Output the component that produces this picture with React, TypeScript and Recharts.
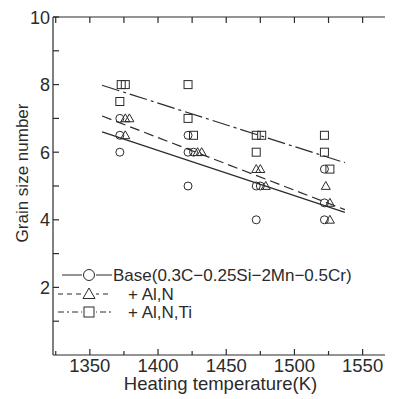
import { ScatterChart, Scatter, XAxis, YAxis } from "recharts";

const INK = "#2b2b2b";
const FONT = "'Liberation Sans', Arial, Helvetica, sans-serif";

const X_MIN = 1323;
const X_MAX = 1573;
const Y_MIN = 0;
const Y_MAX = 10;
const xTicks = [1325, 1350, 1375, 1400, 1425, 1450, 1475, 1500, 1525, 1550];
const xLabelTicks = [1350, 1400, 1450, 1500, 1550];
const yTicks = [1, 2, 3, 4, 5, 6, 7, 8, 9, 10];
const yLabelTicks = [2, 4, 6, 8, 10];

// measured grain size numbers (small x offsets where symbols overlap)
const basePoints = [
  { x: 1372, y: 7 }, { x: 1372, y: 6.5 }, { x: 1372, y: 6 },
  { x: 1422, y: 6.5 }, { x: 1422, y: 6 }, { x: 1426, y: 6 }, { x: 1422, y: 5 },
  { x: 1472, y: 5 }, { x: 1475, y: 5 }, { x: 1472, y: 4 },
  { x: 1522, y: 5.5 }, { x: 1522, y: 4.5 }, { x: 1522, y: 4 },
];
const alnPoints = [
  { x: 1376, y: 7 }, { x: 1379, y: 7 }, { x: 1376, y: 6.5 },
  { x: 1429, y: 6 }, { x: 1432, y: 6 },
  { x: 1472, y: 5.5 }, { x: 1475, y: 5.5 }, { x: 1479, y: 5 },
  { x: 1523, y: 5 }, { x: 1526, y: 4.5 }, { x: 1526, y: 4 },
];
const alnTiPoints = [
  { x: 1373, y: 8 }, { x: 1376, y: 8 }, { x: 1372, y: 7.5 },
  { x: 1422, y: 8 }, { x: 1422, y: 7 }, { x: 1426, y: 6.5 },
  { x: 1472, y: 6.5 }, { x: 1476, y: 6.5 }, { x: 1472, y: 6 },
  { x: 1522, y: 6.5 }, { x: 1522, y: 6 }, { x: 1526, y: 5.5 },
];

// fitted trend lines (end points)
const baseFit = [{ x: 1359, y: 6.6 }, { x: 1537, y: 4.22 }];
const alnFit = [{ x: 1359, y: 7.07 }, { x: 1537, y: 4.3 }];
const alnTiFit = [{ x: 1359, y: 7.98 }, { x: 1537, y: 5.69 }];

const seriesNames = ["Base(0.3C\u22120.25Si\u22122Mn\u22120.5Cr)", "+ Al,N", "+ Al,N,Ti"];

// frame (top and right edges) and their inward ticks, built from the tick lists
const frameTop = [{ x: X_MIN, y: Y_MAX }, { x: X_MAX, y: Y_MAX }];
const frameRight = [{ x: X_MAX, y: Y_MIN }, { x: X_MAX, y: Y_MAX }];
const topTickPts = xTicks.map((t) => ({ x: t, y: Y_MAX }));
const rightTickPts = yTicks.map((t) => ({ x: X_MAX, y: t }));

const DASH = "10 5";
const DASHDOT = "18 4 3 4";

const CircleMark = ({ cx, cy, r = 4 }: any) => (
  <circle cx={cx} cy={cy} r={r} fill="none" stroke={INK} strokeWidth={1} />
);
const TriMark = ({ cx, cy, s = 4.5 }: any) => (
  <polygon
    points={`${cx},${cy - s} ${cx - s},${cy + s * 0.75} ${cx + s},${cy + s * 0.75}`}
    fill="none"
    stroke={INK}
    strokeWidth={1}
  />
);
const SquareMark = ({ cx, cy, s = 4 }: any) => (
  <rect x={cx - s} y={cy - s} width={s * 2} height={s * 2} fill="none" stroke={INK} strokeWidth={1} />
);
const NoMark = () => <g />;
const TopTickMark = ({ cx, cy }: any) => (
  <line x1={cx} y1={cy} x2={cx} y2={cy + 6} stroke={INK} strokeWidth={1.2} />
);
const RightTickMark = ({ cx, cy }: any) => (
  <line x1={cx} y1={cy} x2={cx - 6} y2={cy} stroke={INK} strokeWidth={1.2} />
);

function BottomTick({ x, y, payload }: any) {
  const v = payload.value;
  const major = xLabelTicks.includes(v);
  return (
    <g>
      <line x1={x} y1={y} x2={x} y2={y - (major ? 6 : 4)} stroke={INK} strokeWidth={1.2} />
      {major && (
        <text x={x} y={y + 16.5} textAnchor="middle" fontSize={18.5} fontFamily={FONT} fill={INK}>
          {v}
        </text>
      )}
    </g>
  );
}

function LeftTick({ x, y, payload }: any) {
  const v = payload.value;
  return (
    <g>
      <line x1={x} y1={y} x2={x + 6} y2={y} stroke={INK} strokeWidth={1.2} />
      {yLabelTicks.includes(v) && (
        <text x={x - 3} y={y + 6.5} textAnchor="end" fontSize={18} fontFamily={FONT} fill={INK}>
          {v}
        </text>
      )}
    </g>
  );
}

const XTitle = ({ viewBox }: any) => (
  <text
    x={viewBox.x + viewBox.width / 2 - 3}
    y={viewBox.y + 34.5}
    textAnchor="middle"
    fontSize={18.5}
    fontFamily={FONT}
    fill={INK}
  >
    Heating temperature(K)
  </text>
);

const YTitle = ({ viewBox }: any) => (
  <text
    transform={`translate(${viewBox.x + 14}, ${viewBox.y + viewBox.height / 2 - 13}) rotate(-90)`}
    textAnchor="middle"
    dominantBaseline="central"
    fontSize={17}
    fontFamily={FONT}
    fill={INK}
  >
    Grain size number
  </text>
);

function LegendBox() {
  const rows = [
    { dash: undefined, mark: <CircleMark cx={31} cy={9} r={5.5} />, tx: 55 },
    { dash: "5 4", mark: <TriMark cx={31} cy={28} s={6} />, tx: 70 },
    { dash: "6 3 2 3", mark: <SquareMark cx={31} cy={46} s={5} />, tx: 70 },
  ];
  return (
    <svg
      width={300}
      height={60}
      style={{ position: "absolute", left: 50, top: 258, overflow: "visible" }}
    >
      {rows.map((r, i) => {
        const cy = [9, 28, 46][i];
        return (
          <g key={i}>
            <line x1={i === 0 ? 4 : 0} y1={cy} x2={54} y2={cy} stroke={INK} strokeWidth={1} strokeDasharray={r.dash} />
            <rect x={24} y={cy - 6} width={14} height={12} fill="#fff" />
            {r.mark}
            <text x={r.tx} y={cy + 6} fontSize={17} fontFamily={FONT} fill={INK}>
              {seriesNames[i]}
            </text>
          </g>
        );
      })}
    </svg>
  );
}

export default function App() {
  return (
    <div style={{ position: "relative", width: 385, height: 391, overflow: "hidden", background: "#fff" }}>
      <ScatterChart width={386} height={391} margin={{ top: 9, right: 0, bottom: 0, left: 0 }}>
        <XAxis
          type="number"
          dataKey="x"
          domain={[X_MIN, X_MAX]}
          ticks={xTicks}
          interval={0}
          height={44}
          tickSize={0}
          tickMargin={0}
          tickLine={false}
          axisLine={{ stroke: INK, strokeWidth: 1.2 }}
          tick={<BottomTick />}
          label={<XTitle />}
        />
        <YAxis
          type="number"
          dataKey="y"
          domain={[Y_MIN, Y_MAX]}
          ticks={yTicks}
          interval={0}
          width={45}
          tickSize={0}
          tickMargin={0}
          tickLine={false}
          axisLine={{ stroke: INK, strokeWidth: 1.2 }}
          tick={<LeftTick />}
          label={<YTitle />}
        />
        {/* closed frame: top and right edges with inward ticks */}
        <Scatter data={frameTop} line={{ stroke: INK, strokeWidth: 1.2 }} shape={NoMark} legendType="none" isAnimationActive={false} />
        <Scatter data={frameRight} line={{ stroke: INK, strokeWidth: 1.2 }} shape={NoMark} legendType="none" isAnimationActive={false} />
        <Scatter data={topTickPts} shape={TopTickMark} legendType="none" isAnimationActive={false} />
        <Scatter data={rightTickPts} shape={RightTickMark} legendType="none" isAnimationActive={false} />
        {/* trend lines */}
        <Scatter data={baseFit} line={{ stroke: INK, strokeWidth: 1.2 }} shape={NoMark} legendType="none" isAnimationActive={false} />
        <Scatter data={alnFit} line={{ stroke: INK, strokeWidth: 1.2, strokeDasharray: DASH }} shape={NoMark} legendType="none" isAnimationActive={false} />
        <Scatter data={alnTiFit} line={{ stroke: INK, strokeWidth: 1.2, strokeDasharray: DASHDOT }} shape={NoMark} legendType="none" isAnimationActive={false} />
        {/* measurements */}
        <Scatter name={seriesNames[0]} data={basePoints} shape={<CircleMark />} isAnimationActive={false} />
        <Scatter name={seriesNames[1]} data={alnPoints} shape={<TriMark />} isAnimationActive={false} />
        <Scatter name={seriesNames[2]} data={alnTiPoints} shape={<SquareMark />} isAnimationActive={false} />
      </ScatterChart>
      <LegendBox />
    </div>
  );
}
